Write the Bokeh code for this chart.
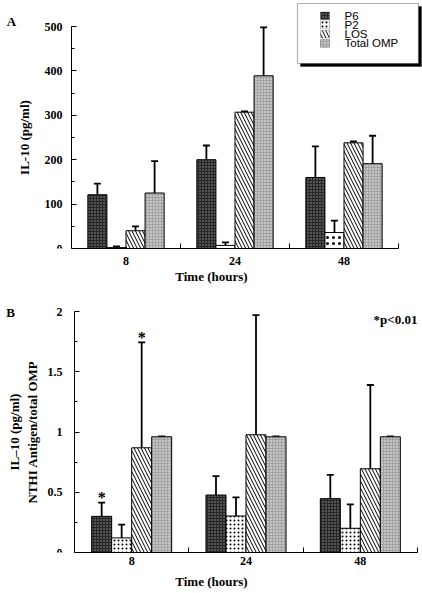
from bokeh.plotting import figure
from bokeh.layouts import column
from bokeh.models import (ColumnDataSource, Range1d, SingleIntervalTicker, FixedTicker,
                          Whisker, TeeHead, Label, BoxAnnotation)
from bokeh.transform import dodge
from bokeh.core.properties import value
from bokeh.embed import file_html
from bokeh.resources import INLINE

# ---------------- data ----------------
times = ["8", "24", "48"]
series = ["P6", "P2", "LOS", "Total OMP"]

# Panel A: IL-10 (pg/ml)
a_p6 = [121, 200, 160]
a_p6_err = [146, 232, 230]
a_p2 = [2, 7, 36]
a_p2_err = [5, 14, 63]
a_los = [40, 307, 238]
a_los_err = [50, 309, 241]
a_omp = [125, 389, 191]
a_omp_err = [197, 498, 254]

# Panel B: IL-10 ratio NTHI antigen / total OMP
b_p6 = [0.30, 0.477, 0.447]
b_p6_err = [0.414, 0.634, 0.645]
b_p2 = [0.121, 0.303, 0.201]
b_p2_err = [0.232, 0.458, 0.40]
b_los = [0.869, 0.977, 0.695]
b_los_err = [1.743, 1.97, 1.39]
b_omp = [0.96, 0.96, 0.96]
b_omp_err = [0.963, 0.963, 0.963]
b_p6_sig = ["*", "", ""]
b_los_sig = ["*", "", ""]

SERIF = "Liberation Serif"
SANS = "Liberation Sans"
BW = 0.175
offsets = [(i - 1.5) * BW for i in range(4)]


def styles(dot_scale, dot_weight):
    return [
        dict(fill_color="#262626", hatch_pattern="dot", hatch_color="#9a9a9a", hatch_scale=3, hatch_weight=1),
        dict(fill_color="white", hatch_pattern="dot", hatch_color="black", hatch_scale=dot_scale, hatch_weight=dot_weight),
        dict(fill_color="white", hatch_pattern="left_diagonal_line", hatch_color="black", hatch_scale=7, hatch_weight=1),
        dict(fill_color="#c6c6c6", hatch_pattern="cross", hatch_color="#a2a2a2", hatch_scale=3, hatch_weight=1),
    ]


def make_fig(height, xr, yr, ymax, interval, ylabel, bottom, dot_scale, dot_weight, src_data,
             tick_std, ylab_std, xtick_std, xlab_std):
    src = ColumnDataSource(src_data)
    p = figure(width=422, height=height, x_range=Range1d(*xr), y_range=Range1d(*yr),
               output_backend="svg", toolbar_location=None,
               min_border_left=0, min_border_right=0, min_border_top=0, min_border_bottom=bottom)
    p.outline_line_color = None
    p.xgrid.visible = False
    p.ygrid.visible = False
    p.background_fill_color = "white"
    p.border_fill_color = "white"

    p.xaxis.ticker = FixedTicker(ticks=[0.5, 1.5, 2.5], minor_ticks=[0, 1, 2, 3])
    p.xaxis.major_label_overrides = {0.5: times[0], 1.5: times[1], 2.5: times[2]}
    p.xaxis.bounds = (0, 3)
    p.xaxis.major_tick_in = 0
    p.xaxis.major_tick_out = 0
    p.xaxis.minor_tick_in = 5
    p.xaxis.minor_tick_out = 0
    p.xaxis.major_label_standoff = xtick_std
    p.xaxis.axis_label = "Time (hours)"
    p.xaxis.axis_label_standoff = xlab_std

    p.yaxis.ticker = SingleIntervalTicker(interval=interval, num_minor_ticks=2)
    p.yaxis.bounds = (0, ymax)
    p.yaxis.fixed_location = 0
    p.yaxis.major_tick_in = 5
    p.yaxis.major_tick_out = 0
    p.yaxis.minor_tick_in = 3
    p.yaxis.minor_tick_out = 0
    p.yaxis.major_label_standoff = tick_std
    p.yaxis.axis_label = ylabel
    p.yaxis.axis_label_standoff = ylab_std

    for ax in (p.xaxis[0], p.yaxis[0]):
        ax.axis_line_color = "black"
        ax.axis_line_width = 1
        ax.major_tick_line_color = "black"
        ax.minor_tick_line_color = "black"
        ax.major_label_text_font = SERIF
        ax.major_label_text_font_style = "bold"
        ax.major_label_text_font_size = "12px"
        ax.major_label_text_color = "black"
        ax.axis_label_text_font = SERIF
        ax.axis_label_text_font_style = "bold"
        ax.axis_label_text_font_size = "13px"
        ax.axis_label_text_color = "black"

    cols = ["p6", "p2", "los", "omp"]
    sty = styles(dot_scale, dot_weight)
    for i, c in enumerate(cols):
        w = Whisker(base=dodge("x", offsets[i]), lower=c, upper=c + "_err", source=src,
                    dimension="height", line_width=1.8, line_color="black",
                    upper_head=TeeHead(size=7, line_width=1.8, line_color="black"),
                    lower_head=None)
        p.add_layout(w)
        p.vbar(x=dodge("x", offsets[i]), top=c, width=BW, source=src,
               line_color="black", line_width=1, **sty[i])
    return p, src


x = [i + 0.5 for i in range(len(times))]

# ---------------- panel A ----------------
srcA = dict(x=x, p6=a_p6, p6_err=a_p6_err, p2=a_p2, p2_err=a_p2_err,
            los=a_los, los_err=a_los_err, omp=a_omp, omp_err=a_omp_err)
pA, sA = make_fig(290, (-0.6514, 3.2202), (0, 558.6), 500, 100, "IL-10 (pg/ml)", 42, 6, 0.4, srcA,
                  9, 10, 8, 1)


def sbox(l, r, b, t, **kw):
    return BoxAnnotation(left=l, right=r, bottom=b, top=t,
                         left_units="screen", right_units="screen",
                         bottom_units="screen", top_units="screen", **kw)


# legend box with drop shadow (frame-relative screen units)
pA.add_layout(sbox(300, 421, 182, 242, fill_color="black", fill_alpha=1, line_color="black"))
pA.add_layout(sbox(297, 418, 185, 245, fill_color="white", fill_alpha=1,
                   line_color="black", line_width=1.2))
leg_styles = styles(4, 0.6)
for i, name in enumerate(series):
    cy = 248 - (15.3 + 9.2 * i)
    pA.add_layout(sbox(320, 329, cy - 3.8, cy + 3.8, fill_alpha=1, line_color="black",
                       line_width=0.8, **leg_styles[i]))
    pA.add_layout(Label(x=344, y=cy, x_units="screen", y_units="screen", text=name,
                        text_font=SANS, text_font_size="11.5px", text_color="black",
                        text_baseline="middle", text_align="left"))

pA.add_layout(Label(x=-0.55, y=511, text="A",
                    text_font=SERIF, text_font_style="bold", text_font_size="13px",
                    text_align="center", text_baseline="middle", text_color="black"))

# ---------------- panel B ----------------
srcB = dict(x=x, p6=b_p6, p6_err=b_p6_err, p2=b_p2, p2_err=b_p2_err,
            los=b_los, los_err=b_los_err, omp=b_omp, omp_err=b_omp_err,
            p6_sig=b_p6_sig, los_sig=b_los_sig)
pB, sB = make_fig(302, (-0.6472, 3.0437), (0, 2.1743), 2, 0.5,
                  "IL\u201310 (pg/ml)\nNTHI Antigen/total OMP", 40, 4, 0.8, srcB,
                  12, 5, 4, 6)

for col, off in (("p6_sig", offsets[0]), ("los_sig", offsets[2])):
    pB.text(x=dodge("x", off), y=col.replace("_sig", "_err"), text=col, source=sB,
            text_font=value(SERIF), text_font_style="bold", text_font_size="16px",
            text_align="center", text_baseline="alphabetic", y_offset=-5, text_color="black")

pB.add_layout(Label(x=-0.56, y=1.988, text="B",
                    text_font=SERIF, text_font_style="bold", text_font_size="13px",
                    text_align="center", text_baseline="middle", text_color="black"))
pB.add_layout(Label(x=3.0, y=1.934, text="*p<0.01",
                    text_font=SERIF, text_font_style="bold", text_font_size="13px",
                    text_align="right", text_baseline="middle", text_color="black"))

layout = column(pA, pB, spacing=0)
open("out.html", "w").write(file_html(layout, INLINE))
